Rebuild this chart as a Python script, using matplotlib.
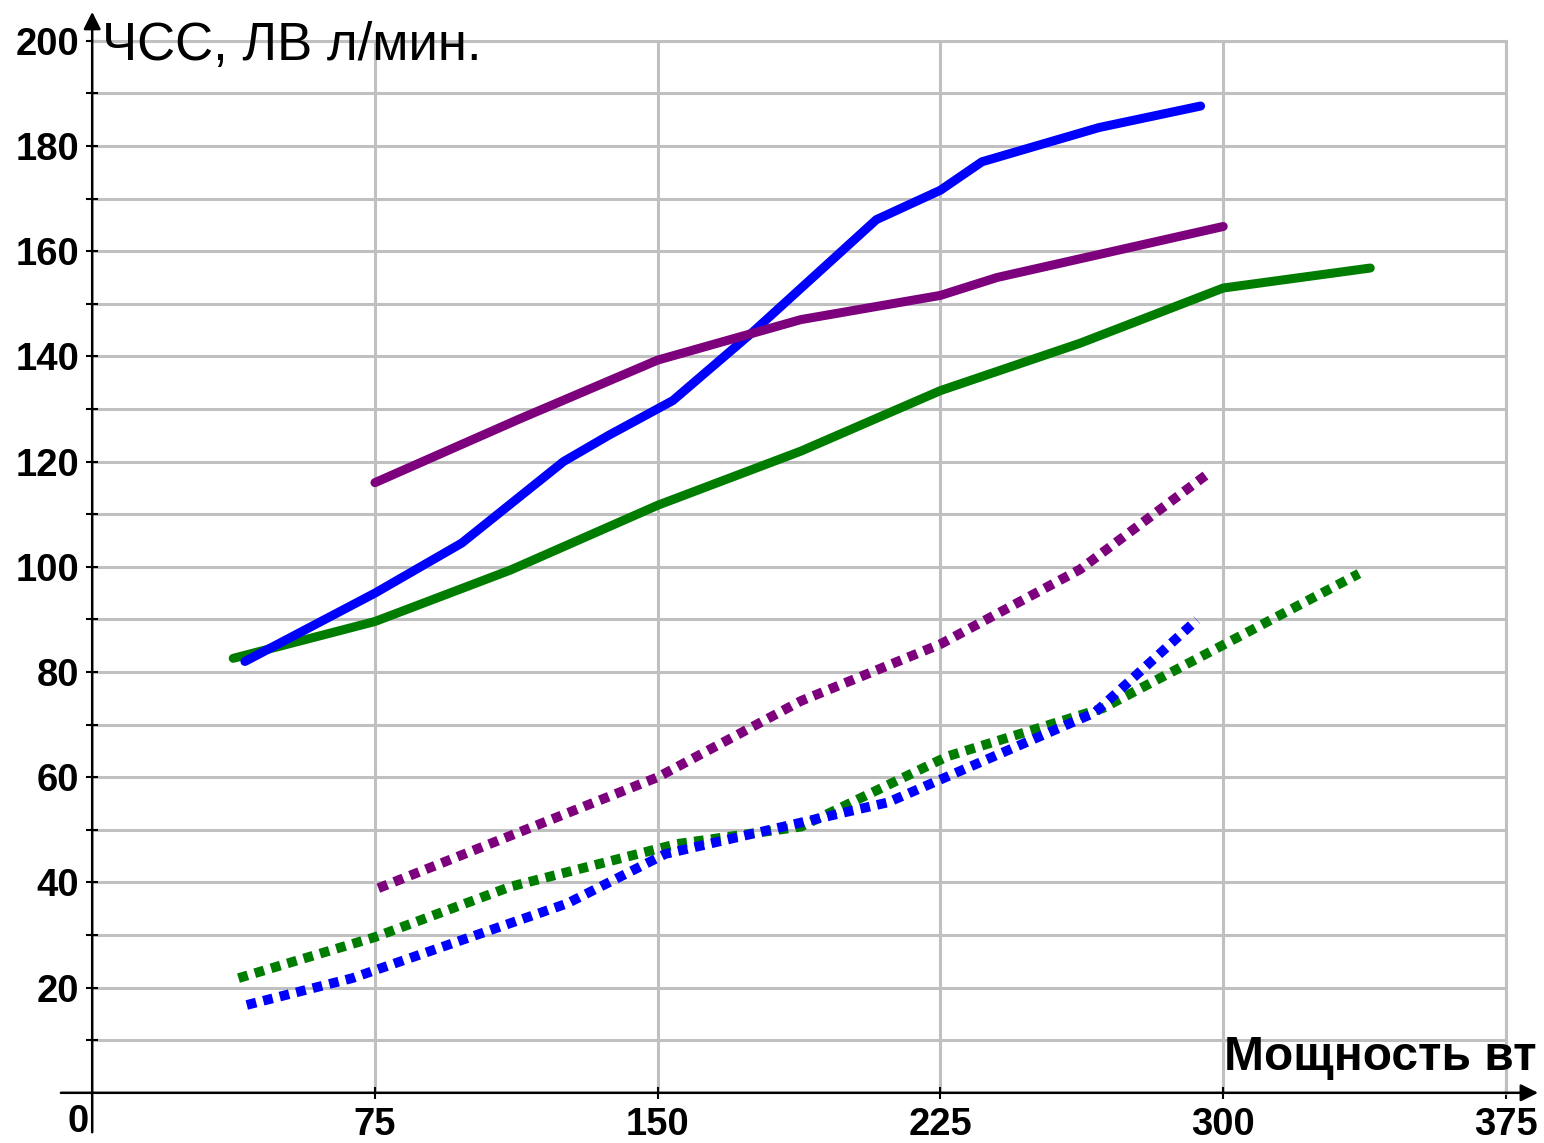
import matplotlib
matplotlib.use("Agg")
import matplotlib.pyplot as plt

plt.rcParams['font.family'] = ['Liberation Sans', 'DejaVu Sans']

# --- data ---
blue_hr_x = [40.5, 75, 98, 125, 137, 154, 175, 208, 225, 236, 267, 294]
blue_hr_y = [82, 95, 104.5, 120, 125, 131.6, 144.5, 166, 171.6, 177, 183.5, 187.6]

purple_hr_x = [75, 113, 150, 188, 225, 240, 300]
purple_hr_y = [116, 128, 139.3, 147, 151.6, 155, 164.7]

green_hr_x = [37.4, 75, 111, 150, 188, 225, 262, 300, 339]
green_hr_y = [82.6, 89.6, 99.4, 111.7, 122, 133.5, 142.5, 153, 156.8]

blue_co_x = [41, 69, 126, 152, 211, 266, 293]
blue_co_y = [16.7, 21.8, 36, 45.4, 55.2, 72.3, 89.9]

green_co_x = [38.8, 75, 111, 155, 188, 227, 268, 336]
green_co_y = [21.8, 29.6, 39.2, 47.3, 50.6, 64, 73.1, 98.7]

purple_co_x = [75.9, 150, 188, 225, 262, 296.5]
purple_co_y = [38.9, 60, 74.5, 85.3, 99.5, 118]

x_ticks = [75, 150, 225, 300, 375]
y_ticks = [20, 40, 60, 80, 100, 120, 140, 160, 180, 200]
y_minor = list(range(10, 201, 10))

y_label = "ЧСС, ЛВ л/мин."
x_label = "Мощность вт"

BLUE = '#0000FF'
PURPLE = '#7D007D'
GREEN = '#007D00'
GRID = '#C0C0C0'

fig = plt.figure(figsize=(15.44, 11.43), dpi=100)
ax = fig.add_axes([92.2 / 1544, (1143 - 1092.8) / 1143, (1506 - 92.2) / 1544, (1092.8 - 40.8) / 1143])
ax.set_xlim(0, 375)
ax.set_ylim(0, 200)

# grid
ax.set_xticks(x_ticks)
ax.set_yticks(y_ticks)
ax.set_yticks(y_minor, minor=True)
ax.grid(True, which='both', color=GRID, lw=2.2, zorder=0)
ax.set_axisbelow(True)
for s in ['top', 'right']:
    ax.spines[s].set_color(GRID)
    ax.spines[s].set_linewidth(2.2)
for s in ['left', 'bottom']:
    ax.spines[s].set_visible(False)

ax.tick_params(axis='both', which='both', direction='inout', length=9, width=1.5, color='black')
ax.tick_params(axis='y', which='major', pad=5, labelsize=27.5)
ax.tick_params(axis='x', which='major', pad=6, labelsize=27.5)
for lab in ax.get_xticklabels() + ax.get_yticklabels():
    lab.set_fontweight('bold')

# axes with arrows
arrow = dict(arrowstyle='-|>', color='black', lw=1.8, mutation_scale=26, shrinkA=0, shrinkB=0)
ax.annotate('', xy=(0, 205.5), xytext=(0, -7.5), arrowprops=arrow, annotation_clip=False, zorder=5)
ax.annotate('', xy=(383.5, 0), xytext=(-8.3, 0), arrowprops=arrow, annotation_clip=False, zorder=5)

# series
solid = dict(lw=6.5, solid_capstyle='round', solid_joinstyle='round')
dotted = dict(lw=7, linestyle=(0, (1, 0.75)), dash_capstyle='butt')
ax.plot(green_co_x, green_co_y, color=GREEN, zorder=3, **dotted)
ax.plot(blue_co_x, blue_co_y, color=BLUE, zorder=3, **dotted)
ax.plot(purple_co_x, purple_co_y, color=PURPLE, zorder=3, **dotted)
ax.plot(green_hr_x, green_hr_y, color=GREEN, zorder=4, **solid)
ax.plot(blue_hr_x, blue_hr_y, color=BLUE, zorder=4, **solid)
ax.plot(purple_hr_x, purple_hr_y, color=PURPLE, zorder=4, **solid)

# texts
ax.text(2.6, 199.0, y_label, fontsize=38, ha='left', va='center', zorder=6)
ax.text(383.0, 6.8, x_label, fontsize=34.5, fontweight='bold', ha='right', va='center', zorder=6)
ax.text(-3.8, -5.5, '0', fontsize=27.5, fontweight='bold', ha='center', va='center', clip_on=False)

fig.savefig('out.png', dpi=100, facecolor='white')
